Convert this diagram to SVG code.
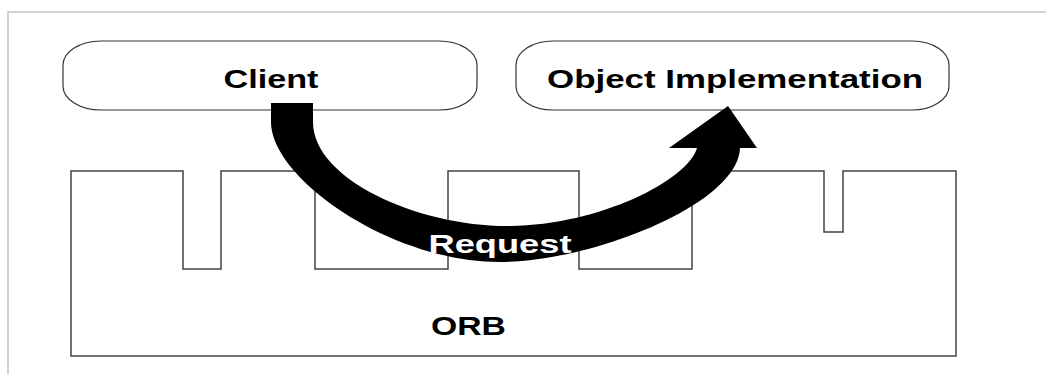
<svg xmlns="http://www.w3.org/2000/svg" width="1046" height="374" viewBox="0 0 1046 374">
  <defs>
    <style>
      .frame { fill: none; stroke: #c4c4c4; stroke-width: 1.5; }
      .pill { fill: #ffffff; stroke: #333333; stroke-width: 1.2; }
      .orb { fill: #ffffff; stroke: #444444; stroke-width: 1.5; }
      .label { font-family: "Liberation Sans", Arial, sans-serif; font-weight: bold; font-size: 25px; fill: #000000; }
      .white { fill: #ffffff; }
      .arrow { fill: #000000; stroke: none; }
    </style>
  </defs>
  <rect width="1046" height="374" fill="#ffffff"/>
  <path class="frame" d="M8,374 V12 H1046"/>

  <g id="orb">
    <path class="orb" d="M71,171 H183 V269 H221 V171 H315 V269 H448 V171 H579 V269 H692 V171 H824 V232 H843 V171 H956 V356 H71 Z"/>
    <text class="label" x="431" y="334.5" textLength="75" lengthAdjust="spacingAndGlyphs">ORB</text>
  </g>

  <g id="client">
    <rect class="pill" x="63" y="41" width="414" height="69" rx="38" ry="24"/>
    <text class="label" x="223.5" y="88.3" textLength="95" lengthAdjust="spacingAndGlyphs">Client</text>
  </g>

  <g id="object-implementation">
    <rect class="pill" x="516" y="41" width="433" height="69" rx="37" ry="24"/>
    <text class="label" x="547" y="88.3" textLength="376" lengthAdjust="spacingAndGlyphs">Object Implementation</text>
  </g>

  <g id="connectors">
    <path class="arrow" d="M271,103 L271,122 C271,178 390,262 500,262 C590,262 738,205 740,148 L757,148 L728,106 L669,148 L697,148 C688,180 600,225 510,226 C420,227 313,180 313,122 L313,103 Z"/>
    <text class="label white" x="428.5" y="253" textLength="143" lengthAdjust="spacingAndGlyphs">Request</text>
  </g>
</svg>
